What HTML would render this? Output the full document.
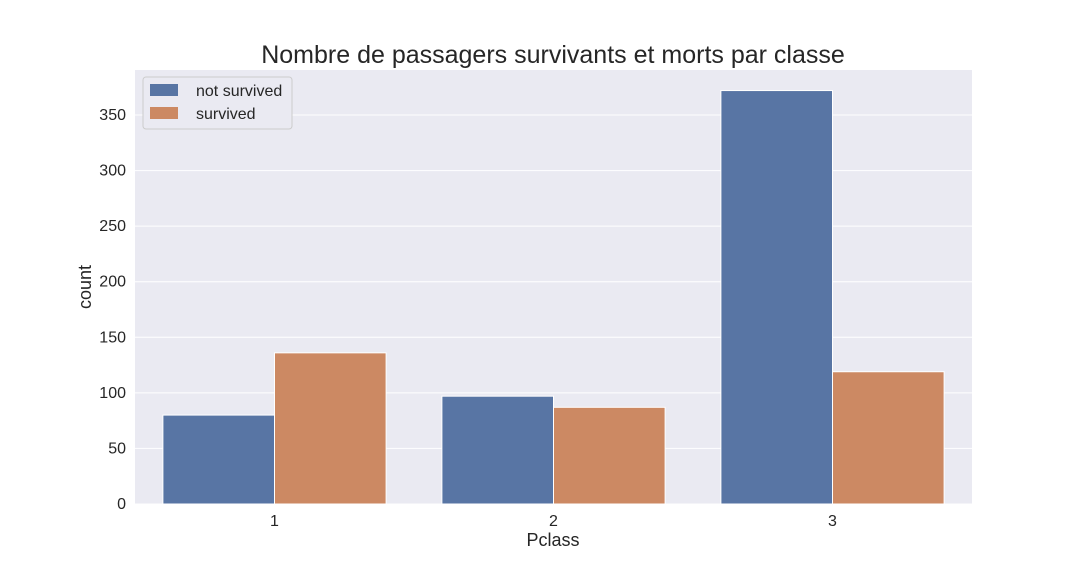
<!DOCTYPE html>
<html><head><meta charset="utf-8"><style>
body{margin:0;background:#fff;font-family:"Liberation Sans",Arial,sans-serif}
</style></head><body>
<svg id="chart" width="1080" height="576" xmlns="http://www.w3.org/2000/svg" font-family="Liberation Sans, Arial, sans-serif">
<rect x="135" y="70" width="837" height="434" fill="#eaeaf2"/>
<g id="grid"></g><g id="bars"></g><g id="ticks"></g>
<text x="553" y="63" text-anchor="middle" font-size="25" fill="#262626">Nombre de passagers survivants et morts par classe</text>
<text x="553" y="546" text-anchor="middle" font-size="18" fill="#262626">Pclass</text>
<text x="91" y="287" text-anchor="middle" font-size="18" fill="#262626" transform="rotate(-90 91 287)">count</text>
<g>
<rect x="143" y="77" width="149" height="52" rx="3" fill="#eaeaf2" stroke="#cccccc"/>
<rect x="150" y="84" width="28" height="12" fill="#5875a4"/>
<text x="196" y="96" font-size="16" fill="#262626">not survived</text>
<rect x="150" y="107" width="28" height="12" fill="#cc8963"/>
<text x="196" y="119" font-size="16" fill="#262626">survived</text>
</g>
</svg>
<script>
const categories=["1","2","3"];
const notSurvived=[80,97,372];
const survived=[136,87,119];
const yTicks=[0,50,100,150,200,250,300,350];
const ns="http://www.w3.org/2000/svg";
const L=135,R=972,T=70,B=504,yMax=390.5;
const y=v=>B-v*(B-T)/yMax;
const band=(R-L)/categories.length;
const xc=i=>L+band*(i+0.5);
function mk(tag,attrs,parent){const e=document.createElementNS(ns,tag);for(const k in attrs)e.setAttribute(k,attrs[k]);document.getElementById(parent).appendChild(e);return e;}
yTicks.forEach(t=>{
 const g=mk('line',{x1:L,x2:R,y1:y(t),y2:y(t),stroke:'#fff','stroke-width':1},'grid');
 
 
 const tx=mk('text',{x:L-9,y:y(t)+5,'text-anchor':'end','font-size':16,fill:'#262626'},'ticks');
 tx.textContent=t;
 
 
});
const bw=band*0.4;
categories.forEach((c,i)=>{
 const b1=mk('rect',{x:xc(i)-bw,y:y(notSurvived[i]),width:bw,height:B-y(notSurvived[i]),fill:'#5875a4',stroke:'#fff','stroke-width':1},'bars');
 
 
 const b2=mk('rect',{x:xc(i),y:y(survived[i]),width:bw,height:B-y(survived[i]),fill:'#cc8963',stroke:'#fff','stroke-width':1},'bars');
 
 
 const tx=mk('text',{x:xc(i),y:B+22,'text-anchor':'middle','font-size':16,fill:'#262626'},'ticks');
 tx.textContent=c;
 
 
});
</script>
</body></html>
